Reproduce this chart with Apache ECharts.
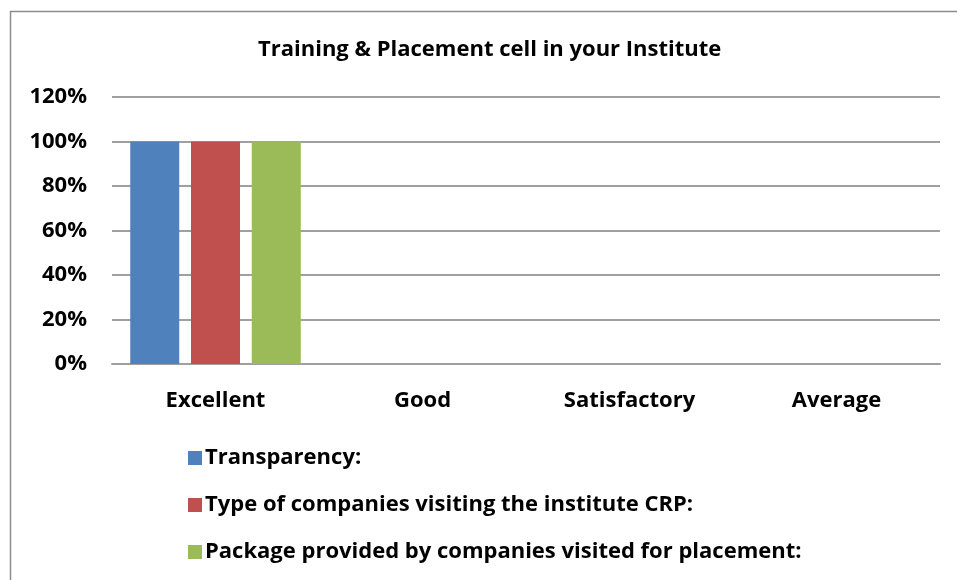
<!DOCTYPE html>
<html>
<head>
<meta charset="utf-8">
<script src="https://cdn.jsdelivr.net/npm/echarts@6/dist/echarts.min.js"></script>
<style>
  html, body { margin: 0; padding: 0; background: #fff; }
  #main { width: 957px; height: 580px; }
</style>
</head>
<body>
<div id="main"></div>
<script>
var categories = ["Excellent", "Good", "Satisfactory", "Average"];
var seriesNames = [
  "Transparency:",
  "Type of companies visiting the institute CRP:",
  "Package provided by companies visited for placement:"
];
var transparency = [100, 0, 0, 0];
var companyType = [100, 0, 0, 0];
var packageOffered = [100, 0, 0, 0];
var colors = ["#4f81bd", "#c0504d", "#9bbb59"];

var font = "'Open Sans', Calibri, sans-serif";
var chart = echarts.init(document.getElementById("main"));

function bar(name, data, color) {
  return {
    name: name,
    type: "bar",
    data: data,
    barWidth: 49,
    barGap: "24%",
    itemStyle: { color: color }
  };
}

var option = {
  animation: false,
  title: {
    text: "Training & Placement cell in your Institute",
    left: 253,
    top: 34,
    textStyle: { fontFamily: font, fontSize: 22, fontWeight: "bold", color: "#000" }
  },
  graphic: [{
    type: "rect",
    shape: { x: 10.5, y: 11.5, width: 1000, height: 700 },
    style: { fill: "none", stroke: "#8c8c8c", lineWidth: 1.5 },
    silent: true
  }],
  legend: {
    orient: "vertical",
    left: 183,
    top: 442,
    itemWidth: 14,
    itemHeight: 14,
    itemGap: 25,
    icon: "rect",
    textStyle: { fontFamily: font, fontSize: 22, lineHeight: 22, fontWeight: "bold", color: "#000", padding: [0, 0, 0, -2] },
    data: seriesNames
  },
  grid: { left: 112, right: 17, top: 97, bottom: 216, containLabel: false },
  xAxis: {
    type: "category",
    data: categories,
    axisLine: { lineStyle: { color: "#a0a0a0", width: 2 } },
    axisTick: { show: false },
    axisLabel: { fontFamily: font, fontSize: 22, fontWeight: "bold", color: "#000", margin: 26 }
  },
  yAxis: {
    type: "value",
    min: 0,
    max: 120,
    interval: 20,
    axisLine: { show: false },
    axisTick: { show: false },
    axisLabel: { formatter: "{value}%", fontFamily: font, fontSize: 22, fontWeight: "bold", color: "#000", margin: 25 },
    splitLine: { lineStyle: { color: "#a0a0a0", width: 2 } }
  },
  series: [
    bar(seriesNames[0], transparency, colors[0]),
    bar(seriesNames[1], companyType, colors[1]),
    bar(seriesNames[2], packageOffered, colors[2])
  ]
};
chart.setOption(option);
</script>
</body>
</html>
